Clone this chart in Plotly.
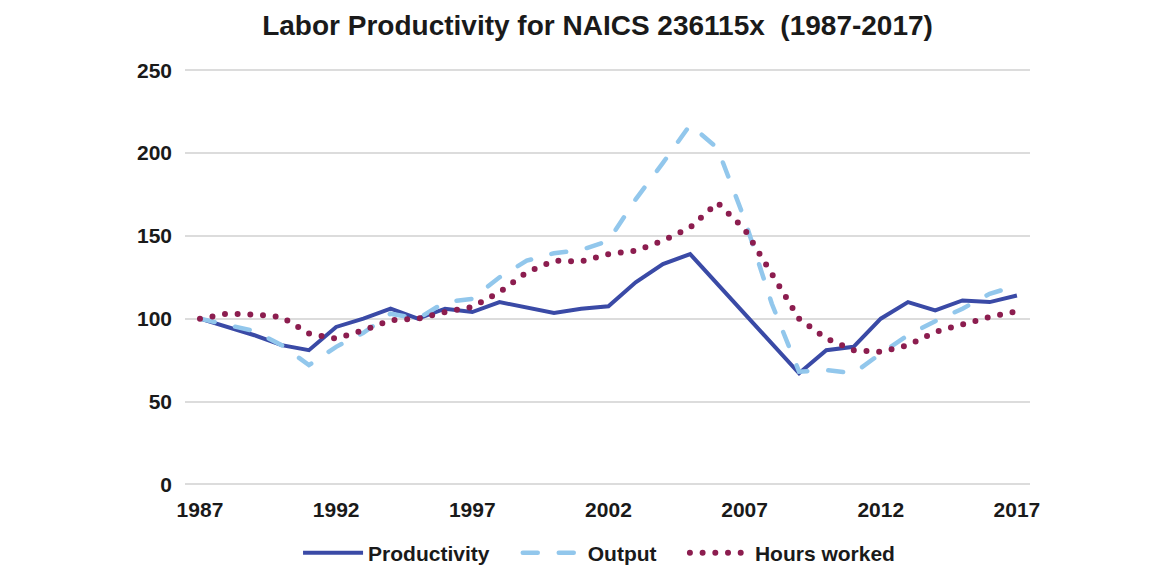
import plotly.graph_objects as go

years = list(range(1987, 2018))
productivity = [100, 95, 90, 84, 81, 95, 100, 106, 100, 106, 104, 110, 106.5, 103.5, 106, 107.5,
                122, 133, 139, 121, 103, 85, 67, 81, 83, 100, 110, 105, 111, 110, 114]
output = [100, 96, 92.5, 84, 72, 83, 91.5, 103, 100, 110, 112, 125, 135, 139.5, 141.5, 147,
          172, 194, 217, 203, 160, 109, 68, 69, 67, 79, 90, 98.5, 106, 115, 120]
hours = [100, 103, 102.5, 101, 91, 88, 93, 99, 100, 104, 107, 116, 128, 135, 134.5, 139,
         141, 147, 155, 170, 154, 127, 100, 88, 81, 80, 84, 92, 96.5, 101, 104.5]

x_ticks = [1987, 1992, 1997, 2002, 2007, 2012, 2017]
y_ticks = [0, 50, 100, 150, 200, 250]

FONT = "Liberation Sans, Arial, sans-serif"
TXT = "#1a1a1a"
NB = "\u00a0"

fig = go.Figure()
fig.add_trace(go.Scatter(x=years, y=productivity, name="Productivity" + NB * 4, mode="lines",
                         line=dict(color="#3a4aa6", width=4)))
fig.add_trace(go.Scatter(x=years, y=output, name="Output" + NB * 4, mode="lines",
                         line=dict(color="#92c7ec", width=4.5, dash="15px,21px")))
fig.add_trace(go.Scatter(x=years, y=hours, name="Hours worked", mode="lines",
                         line=dict(color="#8c1d4f", width=6, dash="0px,12.7px")))

W, H = 1156, 559
fig.update_layout(
    width=W, height=H,
    margin=dict(l=177, r=134, t=61, b=80),
    paper_bgcolor="white", plot_bgcolor="white",
    font=dict(family=FONT, color=TXT, size=21),
    title=dict(text="Labor Productivity for NAICS 236115x  (1987-2017)",
               x=0.51, xanchor="center", y=1 - 17 / H, yanchor="middle",
               yref="container",
               font=dict(family=FONT, size=28, color=TXT, weight="bold")),
    xaxis=dict(range=[1986.45, 2017.48], tickmode="array", tickvals=x_ticks,
               ticktext=[str(v) for v in x_ticks], showgrid=False, zeroline=False,
               showline=False, ticks="", ticklabelstandoff=9,
               tickfont=dict(family=FONT, size=21, color=TXT, weight="bold")),
    yaxis=dict(range=[-0.7, 250.7], tickmode="array", tickvals=y_ticks,
               showgrid=True, gridcolor="#dcdcdc", gridwidth=1.5,
               zeroline=False, showline=False, ticks="", ticklabelstandoff=12,
               tickfont=dict(family=FONT, size=21, color=TXT, weight="bold")),
    legend=dict(orientation="h", x=0.49, xanchor="center", y=14 / H, yanchor="middle",
                yref="container", font=dict(family=FONT, size=21, color=TXT, weight="bold"),
                itemwidth=60, tracegroupgap=0, traceorder="normal"),
    showlegend=True,
)

post = """
var gd = document.getElementById('{plot_id}');
function roundCaps(){
  gd.querySelectorAll('.scatterlayer .trace').forEach(function(t, i){
    if(i > 0){ t.querySelectorAll('path.js-line').forEach(function(p){ p.style.strokeLinecap = 'round'; }); }
  });
  gd.querySelectorAll('.legend .traces').forEach(function(t, i){
    if(i > 0){ t.querySelectorAll('.legendlines path').forEach(function(p){ p.style.strokeLinecap = 'round'; }); }
  });
}
roundCaps();
gd.on('plotly_afterplot', roundCaps);
"""

fig.write_html("out.html", post_script=post)
